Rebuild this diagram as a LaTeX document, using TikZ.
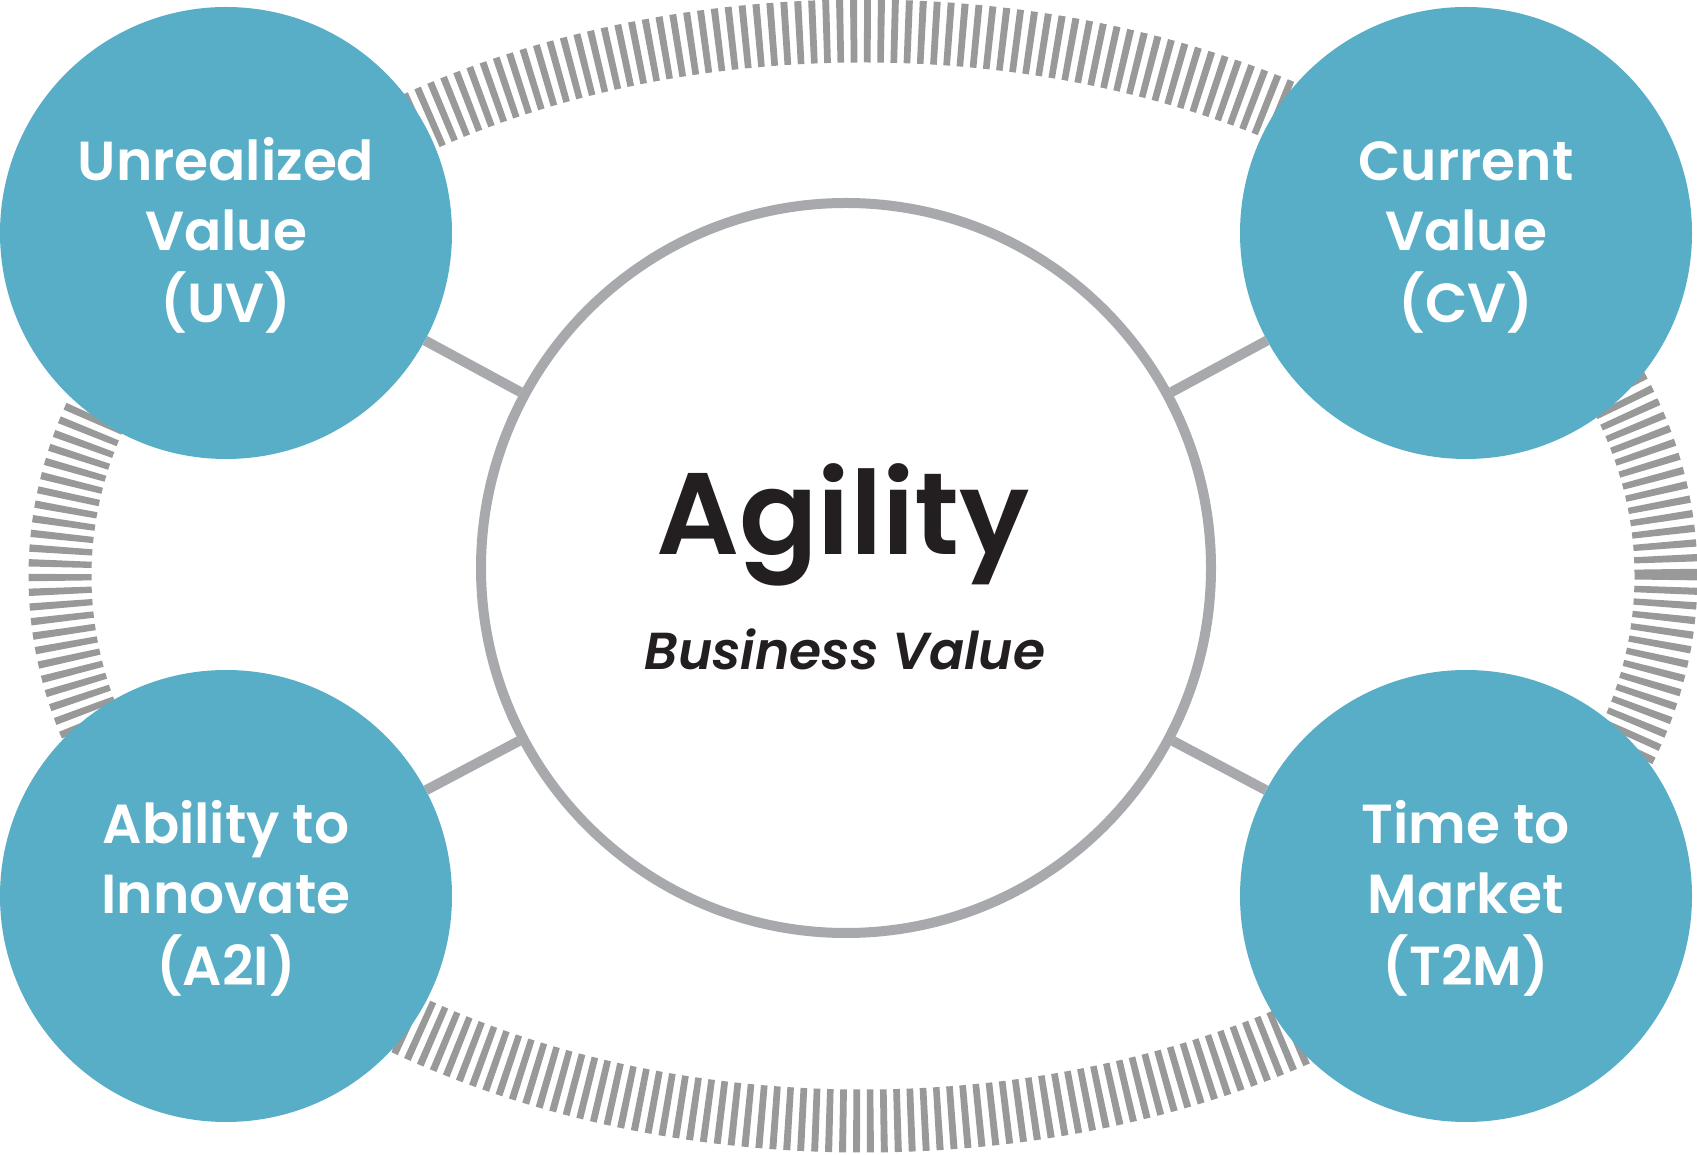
\documentclass[tikz,border=0pt]{standalone}
\usepackage{fontspec}
\setmainfont{Poppins}
\newfontfamily\semifont{Poppins SemiBold}
\newfontfamily\semiitfont{Poppins SemiBold Italic}
\usetikzlibrary{calc}
\definecolor{teal}{RGB}{88,174,198}
\definecolor{tickgray}{RGB}{153,153,153}
\definecolor{linegray}{RGB}{167,169,172}
\definecolor{inkblack}{RGB}{35,31,32}
\tikzset{
  ringticks/.style={draw=tickgray, line width=63pt, dash pattern=on 6.8pt off 6.8pt},
  smallcirc/.style={circle, fill=teal, draw=none, inner sep=0pt, minimum size=452pt},
  bigcirc/.style={circle, fill=white, draw=linegray, line width=10pt, inner sep=0pt, minimum size=730pt},
  conn/.style={draw=linegray, line width=10pt},
  wlabel/.style={text=white, inner sep=0pt, anchor=base, font=\semifont\fontsize{55}{70}\selectfont},
}
\begin{document}
\begin{tikzpicture}[x=1pt, y=1pt]
\useasboundingbox (0,0) rectangle (1697,1154);
\fill[white] (0,0) rectangle (1697,1154);
% hatched ring
\draw[ringticks] (863,578) ellipse (803 and 545);
% central circle
\node[bigcirc] (c) at (846,586) {};
% outer circles
\node[smallcirc] (uv) at (226,921) {};
\node[smallcirc] (cv) at (1466,921) {};
\node[smallcirc] (a2i) at (226,258) {};
\node[smallcirc] (t2m) at (1466,258) {};
% connectors
\draw[conn] (c) -- (uv);
\draw[conn] (c) -- (cv);
\draw[conn] (c) -- (a2i);
\draw[conn] (c) -- (t2m);
% labels
\node[wlabel] (uvt) at (226,973) {\begin{tabular}[t]{@{}c@{}}Unrealized\\Value\\(UV)\end{tabular}};
\node[wlabel] (cvt) at (1466,973) {\begin{tabular}[t]{@{}c@{}}Current\\Value\\(CV)\end{tabular}};
\node[wlabel] (a2it) at (226,310) {\begin{tabular}[t]{@{}c@{}}Ability to\\Innovate\\(A2I)\end{tabular}};
\node[wlabel] (t2mt) at (1466,310) {\begin{tabular}[t]{@{}c@{}}Time to\\Market\\(T2M)\end{tabular}};
\node[text=inkblack, inner sep=0pt, anchor=base, font=\semifont\fontsize{116}{130}\selectfont] (agility) at (843,599) {Agility};
\node[text=inkblack, inner sep=0pt, anchor=base, font=\semiitfont\fontsize{52}{60}\selectfont] (bv) at (845,484) {Business Value};
\end{tikzpicture}
\end{document}
